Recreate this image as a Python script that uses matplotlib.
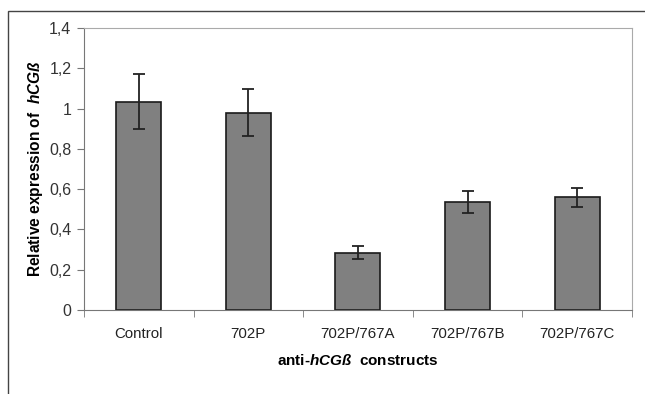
import matplotlib.pyplot as plt
import matplotlib.patches as mpatches
import numpy as np

plt.rcParams['font.family'] = ['Liberation Sans', 'DejaVu Sans']
plt.rcParams['mathtext.fontset'] = 'custom'
plt.rcParams['mathtext.rm'] = 'Liberation Sans'
plt.rcParams['mathtext.bf'] = 'Liberation Sans:bold'
plt.rcParams['mathtext.bfit'] = 'Liberation Sans:bold:italic'

# data
constructs = ['Control', '702P', '702P/767A', '702P/767B', '702P/767C']
expression = [1.035, 0.98, 0.285, 0.535, 0.56]
errors = [0.138, 0.115, 0.033, 0.054, 0.047]
yticks = [0, 0.2, 0.4, 0.6, 0.8, 1.0, 1.2, 1.4]
ytick_labels = ['0', '0,2', '0,4', '0,6', '0,8', '1', '1,2', '1,4']

fig = plt.figure(figsize=(6.45, 3.94), dpi=100)
ax = fig.add_axes([0.130, 0.213, 0.850, 0.716])

x = np.arange(len(constructs))
ax.bar(x, expression, width=0.41, color='#808080', edgecolor='#1a1a1a', linewidth=1.2, zorder=2)
ax.errorbar(x, expression, yerr=errors, fmt='none', ecolor='#222222', elinewidth=1.3,
            capsize=4, capthick=1.3, zorder=3)

ax.set_xlim(-0.5, len(constructs) - 0.5)
ax.set_ylim(0, 1.4)
ax.set_yticks(yticks)
ax.set_yticklabels(ytick_labels, fontsize=11.5, color='#333333')

# category labels centred, ticks on category boundaries
ax.set_xticks(x)
ax.set_xticklabels(constructs, fontsize=10.8, color='#222222')
ax.tick_params(axis='x', which='major', length=0, pad=12)
ax.set_xticks(np.arange(-0.5, len(constructs)), minor=True)
ax.tick_params(axis='x', which='minor', length=5, color='#777777', direction='out')
ax.tick_params(axis='y', length=5, color='#777777', direction='out', pad=4)

for s in ['left', 'bottom']:
    ax.spines[s].set_color('#777777')
for s in ['top', 'right']:
    ax.spines[s].set_color('#aaaaaa')

ax.set_ylabel(r'Relative expression of  $\mathbfit{hCGß}$', fontsize=11.2,
              fontweight='bold', labelpad=3)
ax.set_xlabel(r'anti-$\mathbfit{hCGß}$  constructs', fontsize=11,
              fontweight='bold', labelpad=9)

# outer frame (only top and left visible in the reference)
frame = mpatches.Rectangle((8 / 645, -0.1), 1.2, 1 - 11 / 394 + 0.1,
                           transform=fig.transFigure, fill=False,
                           edgecolor='#444444', linewidth=1.0)
fig.patches.append(frame)

fig.savefig('out.png', dpi=100)
